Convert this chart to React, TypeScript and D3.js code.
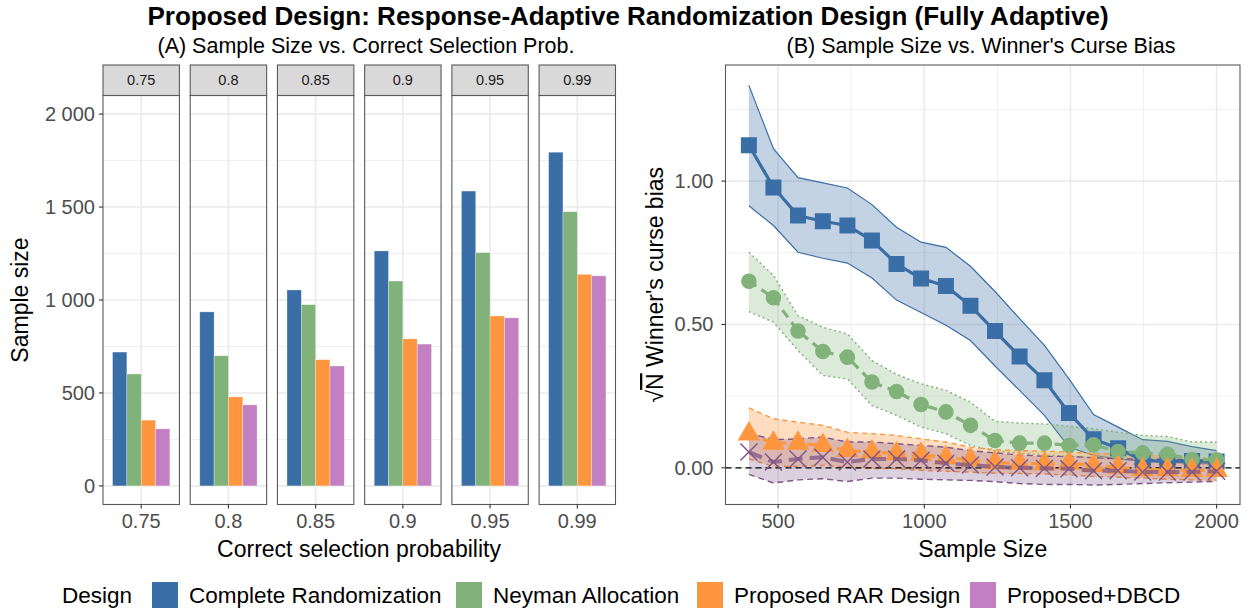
import React from "react";
import * as d3 from "d3";

// ---------- Data ----------
const designs = ["Complete Randomization", "Neyman Allocation", "Proposed RAR Design", "Proposed+DBCD"];
const designColors = ["#3A6EA6", "#80B27A", "#FD963F", "#C280C3"];
const biasColors = ["#3A6EA6", "#80B27A", "#FD963F", "#7E5586"];

const probLabels = ["0.75", "0.8", "0.85", "0.9", "0.95", "0.99"];
const sizeCR = [720, 936, 1054, 1264, 1586, 1795];
const sizeNeyman = [602, 700, 975, 1102, 1255, 1475];
const sizeRAR = [354, 479, 679, 791, 914, 1138];
const sizeDBCD = [307, 436, 645, 763, 904, 1130];
const sizeTicks = [0, 500, 1000, 1500, 2000];
const sizeTickLabels = ["0", "500", "1 000", "1 500", "2 000"];

const sampleN = [400, 484, 568, 653, 737, 821, 905, 989, 1074, 1158, 1242, 1326, 1411, 1495, 1579, 1663, 1747, 1832, 1916, 2000];
const crMean = [1.125, 0.978, 0.880, 0.860, 0.845, 0.793, 0.711, 0.660, 0.634, 0.565, 0.477, 0.388, 0.305, 0.191, 0.100, 0.068, 0.026, 0.022, 0.024, 0.022];
const crUpper = [1.334, 1.113, 1.012, 0.994, 0.976, 0.918, 0.839, 0.787, 0.769, 0.703, 0.615, 0.520, 0.427, 0.310, 0.186, 0.142, 0.098, 0.092, 0.074, 0.060];
const crLower = [0.914, 0.845, 0.752, 0.731, 0.714, 0.662, 0.585, 0.542, 0.497, 0.444, 0.355, 0.270, 0.183, 0.072, 0.043, 0.031, 0.023, 0.020, 0.016, 0.014];
const neyMean = [0.651, 0.593, 0.477, 0.406, 0.386, 0.299, 0.266, 0.221, 0.195, 0.148, 0.095, 0.086, 0.086, 0.078, 0.080, 0.057, 0.052, 0.047, 0.029, 0.028];
const neyUpper = [0.752, 0.671, 0.531, 0.490, 0.467, 0.374, 0.326, 0.293, 0.270, 0.229, 0.162, 0.156, 0.153, 0.145, 0.136, 0.124, 0.113, 0.109, 0.090, 0.090];
const neyLower = [0.545, 0.508, 0.409, 0.322, 0.310, 0.217, 0.183, 0.142, 0.119, 0.078, 0.058, 0.050, 0.045, 0.040, 0.035, 0.030, 0.025, 0.020, 0.015, 0.012];
const rarMean = [0.118, 0.086, 0.086, 0.078, 0.060, 0.055, 0.049, 0.047, 0.035, 0.028, 0.018, 0.016, 0.014, 0.016, 0.008, 0.002, -0.007, -0.007, -0.009, -0.009];
const rarUpper = [0.209, 0.171, 0.159, 0.148, 0.124, 0.119, 0.113, 0.101, 0.090, 0.072, 0.063, 0.060, 0.058, 0.055, 0.050, 0.048, 0.045, 0.040, 0.035, 0.031];
const rarLower = [0.031, 0.005, 0.005, 0.008, 0.002, -0.003, -0.003, -0.009, -0.012, -0.015, -0.019, -0.020, -0.022, -0.025, -0.030, -0.033, -0.036, -0.040, -0.042, -0.044];
const dbcdMean = [0.055, 0.020, 0.031, 0.037, 0.020, 0.031, 0.031, 0.026, 0.016, 0.010, 0.003, 0.000, -0.002, -0.003, -0.010, -0.010, -0.015, -0.015, -0.015, -0.012];
const dbcdUpper = [0.121, 0.098, 0.101, 0.107, 0.090, 0.090, 0.084, 0.078, 0.072, 0.060, 0.052, 0.045, 0.040, 0.040, 0.035, 0.032, 0.030, 0.030, 0.028, 0.025];
const dbcdLower = [-0.023, -0.053, -0.042, -0.038, -0.048, -0.036, -0.036, -0.040, -0.042, -0.044, -0.048, -0.055, -0.058, -0.058, -0.060, -0.058, -0.055, -0.052, -0.050, -0.048];
const nTicks = [500, 1000, 1500, 2000];
const nMinor = [750, 1250, 1750];
const biasTicks = [0, 0.5, 1.0];
const biasMinor = [0.25, 0.75, 1.25];

const FONT = "'Liberation Sans', Arial, Helvetica, sans-serif";
const GRID = "#EBEBEB";
const BORDER = "#5a5a5a";
const TICKC = "#4D4D4D";
const TICK_FS = 20;
const TITLE_FS = 23;
const LEG_FS = 22.5;

function xPath(s: number) {
  return `M${-s},${-s}L${s},${s}M${-s},${s}L${s},${-s}`;
}

export default function App() {
  // ---------- Panel A ----------
  const aTop = 95.5, aBottom = 504.5;
  const yA = d3.scaleLinear().domain([-100, 2100]).range([aBottom, aTop]);
  const facet = d3.scaleBand<string>().domain(probLabels).range([103, 615.5]).paddingInner(0.124).paddingOuter(0);
  const fw = facet.bandwidth();
  const xIn = d3.scaleLinear().domain([0.4, 1.6]).range([0, fw]);
  const dodge = d3.scaleBand<string>().domain(designs).range([xIn(0.55), xIn(1.45)]);
  const sizeSeries = [sizeCR, sizeNeyman, sizeRAR, sizeDBCD];
  const minorA = [250, 750, 1250, 1750];

  // ---------- Panel B ----------
  const bLeft = 725.5, bRight = 1240, bTop = 65, bBottom = 504.5;
  const xB = d3.scaleLinear().domain([320, 2080]).range([bLeft, bRight]);
  const yB = d3.scaleLinear().domain([-0.128, 1.405]).range([bBottom, bTop]);
  const series = [
    { mean: crMean, up: crUpper, lo: crLower, fillOp: 0.3, edgeDash: "", centerDash: "", cw: 3.2, ew: 1.2 },
    { mean: neyMean, up: neyUpper, lo: neyLower, fillOp: 0.28, edgeDash: "2,3", centerDash: "9,6", cw: 3.2, ew: 1.4 },
    { mean: rarMean, up: rarUpper, lo: rarLower, fillOp: 0.32, edgeDash: "5,4", centerDash: "9,6", cw: 3.2, ew: 1.4 },
    { mean: dbcdMean, up: dbcdUpper, lo: dbcdLower, fillOp: 0.28, edgeDash: "6,4", centerDash: "14,7", cw: 4, ew: 1.4 },
  ];
  const area = (up: number[], lo: number[]) =>
    d3.area<number>().x((_, i) => xB(sampleN[i])).y0((_, i) => yB(lo[i])).y1((_, i) => yB(up[i]))(sampleN) || "";
  const line = (v: number[]) => d3.line<number>().x((_, i) => xB(sampleN[i])).y((d) => yB(d))(v) || "";
  const sq = d3.symbol().type(d3.symbolSquare).size(256)() || "";
  const circ = d3.symbol().type(d3.symbolCircle).size(190)() || "";
  const tri = d3.symbol().type(d3.symbolTriangle).size(220)() || "";

  const legendItems = [
    { key: 152, text: 189 },
    { key: 456, text: 493 },
    { key: 697, text: 734 },
    { key: 970, text: 1007 },
  ];

  return (
    <svg width={1256} height={615} style={{ display: "block", position: "absolute", left: 0, top: 0 }} fontFamily={FONT}>
      <rect width={1256} height={615} fill="#fff" />
      <text x={628} y={25} textAnchor="middle" fontSize={26} fontWeight="bold">
        Proposed Design: Response-Adaptive Randomization Design (Fully Adaptive)
      </text>
      <text x={366} y={53} textAnchor="middle" fontSize={21.5}>(A) Sample Size vs. Correct Selection Prob.</text>
      <text x={981} y={53} textAnchor="middle" fontSize={21.5}>(B) Sample Size vs. Winner's Curse Bias</text>

      {/* Panel A */}
      {probLabels.map((p, fi) => {
        const x0 = facet(p)!;
        return (
          <g key={p} transform={`translate(${x0},0)`}>
            <rect x={0} y={aTop} width={fw} height={aBottom - aTop} fill="#fff" />
            {minorA.map((t) => (
              <line key={"m" + t} x1={0} x2={fw} y1={yA(t)} y2={yA(t)} stroke={GRID} strokeWidth={0.8} />
            ))}
            {sizeTicks.map((t) => (
              <line key={"M" + t} x1={0} x2={fw} y1={yA(t)} y2={yA(t)} stroke={GRID} strokeWidth={1.6} />
            ))}
            <line x1={xIn(1)} x2={xIn(1)} y1={aTop} y2={aBottom} stroke={GRID} strokeWidth={1.6} />
            {designs.map((d, di) => {
              const v = sizeSeries[di][fi];
              return (
                <rect key={d} x={dodge(d)!} width={dodge.bandwidth()} y={yA(v)} height={yA(0) - yA(v)}
                  fill={designColors[di]} stroke="#ffffff" strokeOpacity={0.5} strokeWidth={0.6} />
              );
            })}
            <rect x={0} y={aTop} width={fw} height={aBottom - aTop} fill="none" stroke={BORDER} strokeWidth={1.1} />
            <rect x={0} y={65} width={fw} height={aTop - 65} fill="#D9D9D9" stroke={BORDER} strokeWidth={1.1} />
            <text x={fw / 2} y={85} textAnchor="middle" fontSize={14.5} fill="#1A1A1A">{p}</text>
            <line x1={xIn(1)} x2={xIn(1)} y1={aBottom} y2={aBottom + 4} stroke="#333" strokeWidth={1.1} />
            <text x={xIn(1)} y={528} textAnchor="middle" fontSize={TICK_FS} fill={TICKC}>{p}</text>
          </g>
        );
      })}
      {sizeTicks.map((t, i) => (
        <g key={t}>
          <line x1={99} x2={103} y1={yA(t)} y2={yA(t)} stroke="#333" strokeWidth={1.1} />
          <text x={95} y={yA(t)} dy="0.35em" textAnchor="end" fontSize={TICK_FS} fill={TICKC}>{sizeTickLabels[i]}</text>
        </g>
      ))}
      <text x={359} y={557} textAnchor="middle" fontSize={TITLE_FS}>Correct selection probability</text>
      <text transform={`translate(28,${(aTop + aBottom) / 2}) rotate(-90)`} textAnchor="middle" fontSize={TITLE_FS}>Sample size</text>

      {/* Panel B */}
      <g>
        <clipPath id="clipB"><rect x={bLeft} y={bTop} width={bRight - bLeft} height={bBottom - bTop} /></clipPath>
        {biasMinor.map((t) => (
          <line key={"bm" + t} x1={bLeft} x2={bRight} y1={yB(t)} y2={yB(t)} stroke={GRID} strokeWidth={0.8} />
        ))}
        {nMinor.map((t) => (
          <line key={"nm" + t} x1={xB(t)} x2={xB(t)} y1={bTop} y2={bBottom} stroke={GRID} strokeWidth={0.8} />
        ))}
        {biasTicks.map((t) => (
          <line key={"bM" + t} x1={bLeft} x2={bRight} y1={yB(t)} y2={yB(t)} stroke={GRID} strokeWidth={1.6} />
        ))}
        {nTicks.map((t) => (
          <line key={"nM" + t} x1={xB(t)} x2={xB(t)} y1={bTop} y2={bBottom} stroke={GRID} strokeWidth={1.6} />
        ))}
        <g clipPath="url(#clipB)">
          {series.map((s, si) => (
            <g key={"r" + si}>
              <path d={area(s.up, s.lo)} fill={biasColors[si]} fillOpacity={s.fillOp} stroke="none" />
              <path d={line(s.up)} fill="none" stroke={biasColors[si]} strokeWidth={s.ew} strokeDasharray={s.edgeDash} />
              <path d={line(s.lo)} fill="none" stroke={biasColors[si]} strokeWidth={s.ew} strokeDasharray={s.edgeDash} />
            </g>
          ))}
          <line x1={bLeft} x2={bRight} y1={yB(0)} y2={yB(0)} stroke="#000" strokeWidth={1.3} strokeDasharray="6,4" />
          {series.map((s, si) => (
            <g key={"p" + si}>
              <path d={line(s.mean)} fill="none" stroke={biasColors[si]} strokeWidth={s.cw}
                strokeDasharray={s.centerDash} strokeOpacity={si === 3 ? 0.75 : 1} />
              {s.mean.map((v, i) => {
                const tr = `translate(${xB(sampleN[i])},${yB(v)})`;
                if (si === 0) return <path key={i} d={sq} transform={tr} fill={biasColors[0]} />;
                if (si === 1) return <path key={i} d={circ} transform={tr} fill={biasColors[1]} />;
                if (si === 2) return <path key={i} d={tri} transform={tr} fill={biasColors[2]} />;
                return <path key={i} d={xPath(8.5)} transform={tr} fill="none" stroke={biasColors[3]} strokeWidth={1.4} />;
              })}
            </g>
          ))}
        </g>
        <rect x={bLeft} y={bTop} width={bRight - bLeft} height={bBottom - bTop} fill="none" stroke={BORDER} strokeWidth={1.1} />
        {nTicks.map((t) => (
          <g key={"nt" + t}>
            <line x1={xB(t)} x2={xB(t)} y1={bBottom} y2={bBottom + 4} stroke="#333" strokeWidth={1.1} />
            <text x={xB(t)} y={528} textAnchor="middle" fontSize={TICK_FS} fill={TICKC}>{t}</text>
          </g>
        ))}
        {biasTicks.map((t) => (
          <g key={"bt" + t}>
            <line x1={bLeft - 4} x2={bLeft} y1={yB(t)} y2={yB(t)} stroke="#333" strokeWidth={1.1} />
            <text x={bLeft - 12} y={yB(t)} dy="0.35em" textAnchor="end" fontSize={TICK_FS} fill={TICKC}>{d3.format(".2f")(t)}</text>
          </g>
        ))}
        <text x={(bLeft + bRight) / 2} y={557} textAnchor="middle" fontSize={TITLE_FS}>Sample Size</text>
        <text transform={`translate(663,${(bTop + bBottom) / 2}) rotate(-90)`} textAnchor="middle" fontSize={TITLE_FS}>
          √<tspan style={{ textDecoration: "overline" }}>N</tspan> Winner's curse bias
        </text>
      </g>

      {/* Legend */}
      <text x={62} y={595} dy="0.35em" fontSize={LEG_FS}>Design</text>
      {designs.map((d, i) => (
        <g key={d}>
          <rect x={legendItems[i].key} y={582} width={26} height={26} fill={designColors[i]} />
          <text x={legendItems[i].text} y={595} dy="0.35em" fontSize={LEG_FS}>{d}</text>
        </g>
      ))}
    </svg>
  );
}
